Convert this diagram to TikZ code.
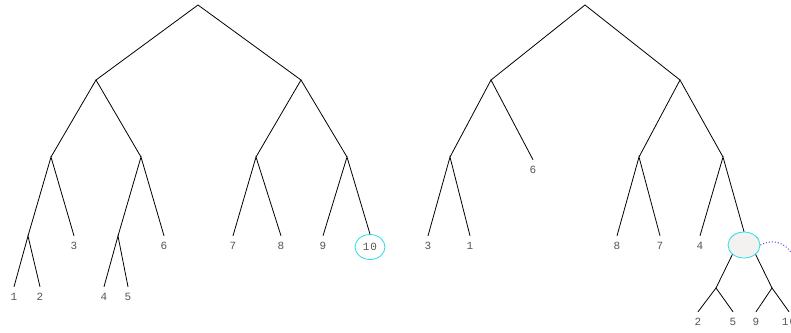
\documentclass[tikz,border=0pt]{standalone}
\usepackage{fontspec}
\setmonofont{Liberation Mono}
\definecolor{labelgray}{RGB}{85,85,85}
\definecolor{ringcyan}{RGB}{40,220,230}
\definecolor{linkviolet}{RGB}{110,60,220}
\definecolor{softfill}{RGB}{243,242,240}
\tikzset{
  leaf/.style={font=\ttfamily\fontsize{11}{11}\selectfont, text=labelgray, inner sep=0pt, minimum height=20pt},
  ring/.style={draw=ringcyan, ellipse, line width=0.8pt, minimum width=30pt, minimum height=25pt, inner sep=0pt},
  branch/.style={line width=0.8pt, black},
}
\usetikzlibrary{shapes.geometric}
\begin{document}
\begin{tikzpicture}[x=1pt,y=-1pt]
\useasboundingbox (0,0) rectangle (791,332);
\clip (0,0) rectangle (791,332);

% ---------- left tree ----------
\coordinate (L) at (198,5);
\coordinate (La) at (96,80);
\coordinate (Lb) at (301,80);
\coordinate (Laa) at (51,157);
\coordinate (Lab) at (141,157);
\coordinate (Lba) at (256,157);
\coordinate (Lbb) at (347,157);
\coordinate (Laaa) at (28,236);
\coordinate (Laba) at (118,236);
\node[leaf] (l1) at (14,297) {1};
\node[leaf] (l2) at (40,297) {2};
\node[leaf] (l3) at (74,246) {3};
\node[leaf] (l4) at (104,297) {4};
\node[leaf] (l5) at (128,297) {5};
\node[leaf] (l6) at (164,246) {6};
\node[leaf] (l7) at (233,246) {7};
\node[leaf] (l8) at (281,246) {8};
\node[leaf] (l9) at (323,246) {9};
\node[ring, fill=white, font=\ttfamily\fontsize{11}{11}\selectfont, text=labelgray] (l10) at (370,247) {1\kern1pt0};

\draw[branch] (La) -- (L) -- (Lb);
\draw[branch] (Laa) -- (La) -- (Lab);
\draw[branch] (Lba) -- (Lb) -- (Lbb);
\draw[branch] (Laaa) -- (Laa) -- (l3.north);
\draw[branch] (Laba) -- (Lab) -- (l6.north);
\draw[branch] (l1.north) -- (Laaa) -- (l2.north);
\draw[branch] (l4.north) -- (Laba) -- (l5.north);
\draw[branch] (l7.north) -- (Lba) -- (l8.north);
\draw[branch] (l9.north) -- (Lbb) -- (l10.north);

% ---------- right tree ----------
\coordinate (R) at (585,5);
\coordinate (Ra) at (491,80);
\coordinate (Rb) at (680,80);
\coordinate (Raa) at (450,157);
\coordinate (Rba) at (639,157);
\coordinate (Rbb) at (723,157);
\node[leaf] (r6) at (533,170) {6};
\node[leaf] (r3) at (428,246) {3};
\node[leaf] (r1) at (470,246) {1};
\node[leaf] (r8) at (617,246) {8};
\node[leaf] (r7) at (660,246) {7};
\node[leaf] (r4) at (700,246) {4};
\node[ring, fill=softfill, minimum width=32pt, minimum height=26pt] (rx) at (744,245) {};
\coordinate (rxa) at (716,288);
\coordinate (rxb) at (772,288);
\node[leaf] (r2) at (698,322) {2};
\node[leaf] (r5) at (733,322) {5};
\node[leaf] (r9) at (756,322) {9};
\node[leaf] (r10) at (789,322) {1\kern1pt0};
\coordinate (rlink) at (797,262);

\draw[branch] (Ra) -- (R) -- (Rb);
\draw[branch] (Raa) -- (Ra) -- (r6.north);
\draw[branch] (Rba) -- (Rb) -- (Rbb);
\draw[branch] (r3.north) -- (Raa) -- (r1.north);
\draw[branch] (r8.north) -- (Rba) -- (r7.north);
\draw[branch] (r4.north) -- (Rbb) -- (rx.north);
\draw[branch] (rxa) -- (rx.south west) ;
\draw[branch] (rx.south east) -- (rxb);
\draw[branch] (r2.north) -- (rxa) -- (r5.north);
\draw[branch] (r9.north) -- (rxb) -- (r10.north);
\draw[linkviolet, dotted, line width=1pt] (rx.east) .. controls (775,238) and (787,242) .. (rlink);
\end{tikzpicture}
\end{document}
